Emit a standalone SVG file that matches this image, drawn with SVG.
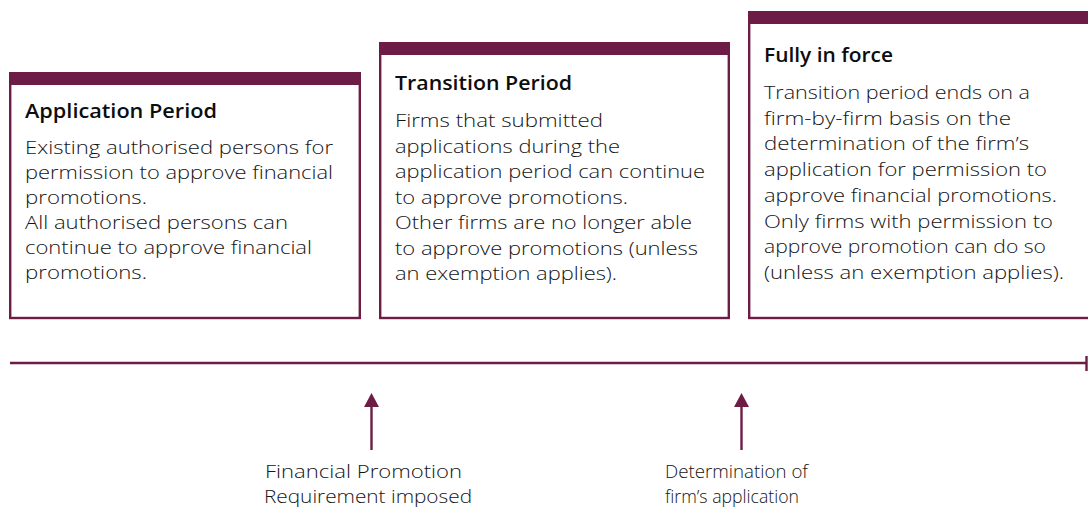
<svg xmlns="http://www.w3.org/2000/svg" width="1088" height="510" viewBox="0 0 1088 510">
<style>
.box{fill:#fff;stroke:#6d1c46;stroke-width:2.4}
.bar{fill:#6d1c46}
.h{font-family:"Open Sans","Liberation Sans",sans-serif;font-weight:600;font-size:19px;fill:#0d0d0d}
.b{font-family:"Open Sans","Liberation Sans",sans-serif;font-weight:300;font-size:19px;fill:#141414}
.ln{stroke:#6d1c46;stroke-width:2.4;fill:none}
</style>
<defs>
<marker id="ah" markerUnits="userSpaceOnUse" viewBox="0 0 14 15" markerWidth="14" markerHeight="15" refX="0" refY="7.5" orient="auto">
<path d="M0,0 L14,7.5 L0,15 z" fill="#6d1c46"/>
</marker>
</defs>
<g id="application-period">
<rect class="box" x="10.2" y="80" width="349.6" height="238"/>
<rect class="bar" x="9" y="72" width="352" height="13"/>
<text class="h" x="25" y="118" textLength="192" lengthAdjust="spacingAndGlyphs">Application Period</text>
<text class="b" x="25" y="154" textLength="308" lengthAdjust="spacingAndGlyphs">Existing authorised persons for</text>
<text class="b" x="25" y="179" textLength="308" lengthAdjust="spacingAndGlyphs">permission to approve financial</text>
<text class="b" x="25" y="204" textLength="122" lengthAdjust="spacingAndGlyphs">promotions.</text>
<text class="b" x="25" y="229" textLength="263" lengthAdjust="spacingAndGlyphs">All authorised persons can</text>
<text class="b" x="25" y="254" textLength="287" lengthAdjust="spacingAndGlyphs">continue to approve financial</text>
<text class="b" x="25" y="279" textLength="122" lengthAdjust="spacingAndGlyphs">promotions.</text>
</g>
<g id="transition-period">
<rect class="box" x="380.2" y="50" width="348.6" height="268"/>
<rect class="bar" x="379" y="42" width="351" height="13"/>
<text class="h" x="395" y="90" textLength="177" lengthAdjust="spacingAndGlyphs">Transition Period</text>
<text class="b" x="395" y="127" textLength="208" lengthAdjust="spacingAndGlyphs">Firms that submitted</text>
<text class="b" x="395" y="152.5" textLength="225" lengthAdjust="spacingAndGlyphs">applications during the</text>
<text class="b" x="395" y="178" textLength="310" lengthAdjust="spacingAndGlyphs">application period can continue</text>
<text class="b" x="395" y="203.5" textLength="233" lengthAdjust="spacingAndGlyphs">to approve promotions.</text>
<text class="b" x="395" y="229" textLength="297" lengthAdjust="spacingAndGlyphs">Other firms are no longer able</text>
<text class="b" x="395" y="254.5" textLength="303" lengthAdjust="spacingAndGlyphs">to approve promotions (unless</text>
<text class="b" x="395" y="280" textLength="222" lengthAdjust="spacingAndGlyphs">an exemption applies).</text>
</g>
<g id="fully-in-force">
<rect class="box" x="749.2" y="18" width="350" height="300"/>
<rect class="bar" x="748" y="11" width="345" height="13"/>
<text class="h" x="764" y="62" textLength="129" lengthAdjust="spacingAndGlyphs">Fully in force</text>
<text class="b" x="764" y="99" textLength="266" lengthAdjust="spacingAndGlyphs">Transition period ends on a</text>
<text class="b" x="764" y="124.7" textLength="247" lengthAdjust="spacingAndGlyphs">firm-by-firm basis on the</text>
<text class="b" x="764" y="150.4" textLength="265" lengthAdjust="spacingAndGlyphs">determination of the firm’s</text>
<text class="b" x="764" y="176.1" textLength="283" lengthAdjust="spacingAndGlyphs">application for permission to</text>
<text class="b" x="764" y="201.8" textLength="293" lengthAdjust="spacingAndGlyphs">approve financial promotions.</text>
<text class="b" x="764" y="227.5" textLength="289" lengthAdjust="spacingAndGlyphs">Only firms with permission to</text>
<text class="b" x="764" y="253.2" textLength="282" lengthAdjust="spacingAndGlyphs">approve promotion can do so</text>
<text class="b" x="764" y="279" textLength="300" lengthAdjust="spacingAndGlyphs">(unless an exemption applies).</text>
</g>
<g id="connectors">
<line class="ln" x1="10" y1="363" x2="1087" y2="363"/>
<line class="ln" x1="1086.5" y1="356" x2="1086.5" y2="371" stroke-width="2"/>
<line class="ln" x1="371.5" y1="450" x2="371.5" y2="407" stroke-width="2" marker-end="url(#ah)"/>
<line class="ln" x1="741.5" y1="450" x2="741.5" y2="407" stroke-width="2" marker-end="url(#ah)"/>
</g>
<g id="label-fpr">
<text class="b" x="265" y="478" textLength="197" lengthAdjust="spacingAndGlyphs">Financial Promotion</text>
<text class="b" x="264" y="503" textLength="208" lengthAdjust="spacingAndGlyphs">Requirement imposed</text>
</g>
<g id="label-determination">
<text class="b" x="665" y="478" textLength="143" lengthAdjust="spacingAndGlyphs">Determination of</text>
<text class="b" x="665" y="503" textLength="134" lengthAdjust="spacingAndGlyphs">firm’s application</text>
</g>
</svg>
